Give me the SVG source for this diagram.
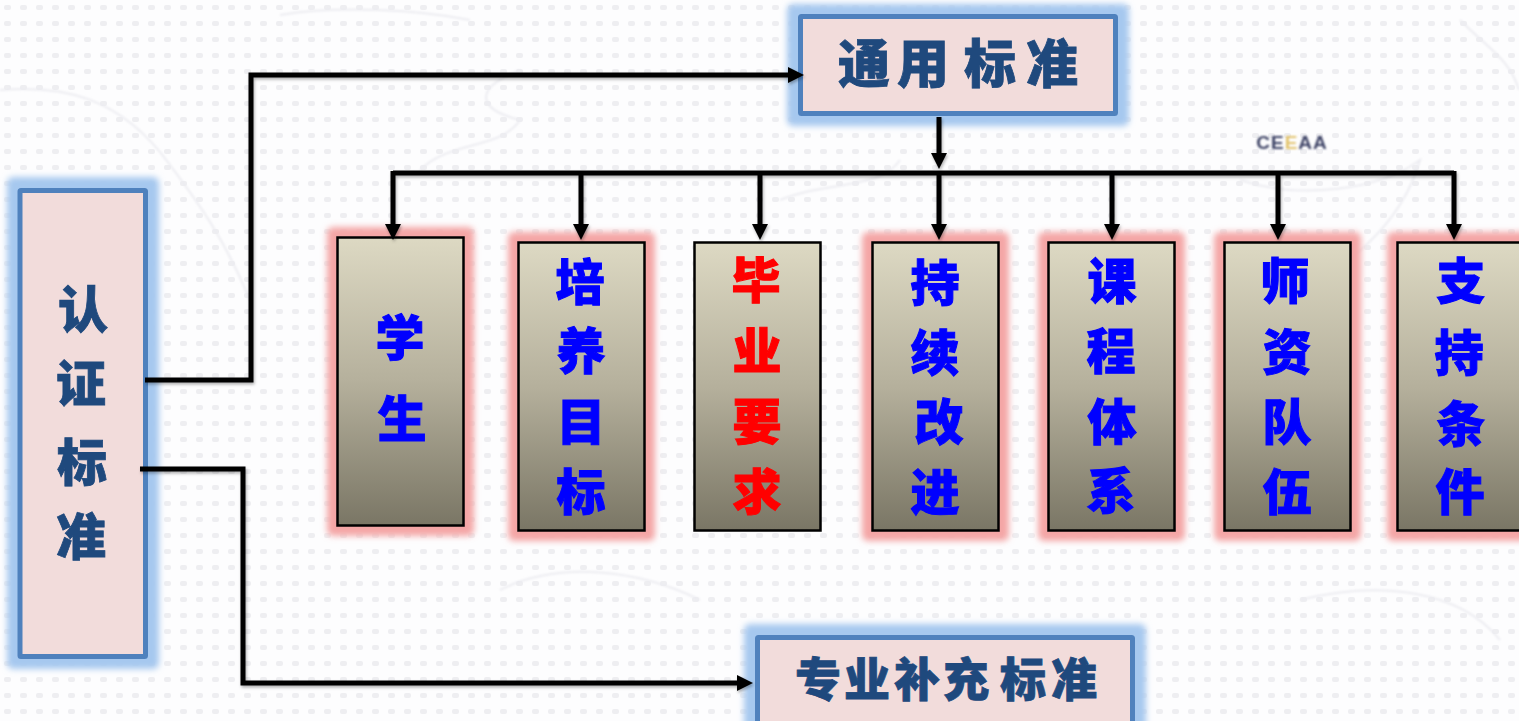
<svg xmlns="http://www.w3.org/2000/svg" width="1519" height="721" viewBox="0 0 1519 721">
<style>
.bbox{fill:#f2dcdb;stroke:#4f81bd;stroke-width:5}
.bglow{fill:#a6c8ef;filter:url(#blur)}
.pglow{fill:#f4a6a6;filter:url(#blur)}
.col{fill:url(#colfill);stroke:#000;stroke-width:2.500}
text{font-family:"Noto Sans CJK SC","Noto Sans CJK TC",sans-serif;font-weight:900;text-anchor:middle;dominant-baseline:central}
.t1{fill:#1f497d;stroke:#1f497d;stroke-width:0.800}
.t2{fill:#0000ff;stroke:#0000ff;stroke-width:1;font-size:49px}
.t3{fill:#ff0000;stroke:#ff0000;stroke-width:1;font-size:49px}
.con{fill:none;stroke:#000;stroke-width:5}
.map{fill:none;stroke:#ececf1;stroke-width:2;filter:url(#soft)}
</style>
<defs>
<filter id="blur" x="-20%" y="-20%" width="140%" height="140%"><feGaussianBlur stdDeviation="3"/></filter>
<filter id="soft" x="-10%" y="-10%" width="120%" height="120%"><feGaussianBlur stdDeviation="1"/></filter>
<filter id="shadow" x="-5%" y="-5%" width="110%" height="110%"><feDropShadow dx="1" dy="2" stdDeviation="1.500" flood-color="#000" flood-opacity="0.3"/></filter>
<filter id="blur1" x="-5%" y="-20%" width="110%" height="140%"><feGaussianBlur stdDeviation="0.800"/></filter>
<linearGradient id="colfill" x1="0" y1="0" x2="0" y2="1"><stop offset="0" stop-color="#ddd9c3"/><stop offset="0.5" stop-color="#b5b09c"/><stop offset="1" stop-color="#7a7665"/></linearGradient>
<pattern id="dots" width="16" height="16" patternUnits="userSpaceOnUse"><rect x="4" y="5" width="7" height="5" rx="2" fill="#eeeef1"/></pattern>
<marker id="arr" markerUnits="userSpaceOnUse" markerWidth="18" markerHeight="18" refX="8" refY="8" orient="auto"><path d="M0 0L16 8L0 16Z" fill="#000"/></marker>
</defs>

<g id="background">
<rect width="1519" height="721" fill="#fdfdfe"/>
<rect width="1519" height="721" fill="url(#dots)"/>
<path class="map" d="M0 90C60 85 120 95 170 165C200 205 225 240 250 300"/>
<path class="map" d="M280 15C340 5 420 10 470 20M420 170C450 140 500 150 520 120C480 110 470 90 520 70"/>
<path class="map" d="M1240 180C1300 200 1380 190 1420 160C1400 230 1340 270 1300 290"/>
<path class="map" d="M500 590C560 560 640 570 700 600M1300 600C1380 580 1460 590 1500 640"/>
<path class="map" d="M1460 20C1490 50 1510 60 1519 90M780 200C830 180 880 190 900 160"/>
</g>

<g id="logo"><text x="1292" y="142" filter="url(#blur1)" style="font-family:'Liberation Sans',sans-serif;font-weight:700;font-size:19px;letter-spacing:1px;fill:#3b4063">CE<tspan fill="#e2c36b">E</tspan>AA</text></g>

<g id="node-certification">
<rect class="bglow" x="7" y="177" width="152" height="492" rx="6"/>
<rect class="bbox" x="20" y="190.500" width="125.500" height="466" rx="1"/>
<text class="t1" font-size="50" x="83 81 82 81" y="306 380 459 533">认证标准</text>
</g>
<g id="node-general">
<rect class="bglow" x="787" y="4" width="342" height="122" rx="6"/>
<rect class="bbox" x="800.500" y="16.500" width="315" height="97" rx="1"/>
<text class="t1" font-size="52" x="864 923 990 1052" y="60">通用标准</text>
</g>
<g id="node-professional">
<rect class="bglow" x="744" y="624" width="402" height="112" rx="6"/>
<rect class="bbox" x="757.500" y="637.500" width="375" height="90" rx="1"/>
<text class="t1" font-size="46" x="818 867 917 966 1023 1074" y="676">专业补充标准</text>
</g>

<g id="node-student">
<rect class="pglow" x="327" y="227" width="147" height="309" rx="6"/>
<rect class="col" x="337.500" y="237.500" width="126" height="288"/>
<text class="t2" x="400 402" y="334 415">学生</text>
</g>
<g id="node-objectives">
<rect class="pglow" x="508" y="232" width="147" height="309" rx="6"/>
<rect class="col" x="518.500" y="242.500" width="126" height="288"/>
<text class="t2" x="580 581 581 581" y="278 347 418 488">培养目标</text>
</g>
<g id="node-outcomes">
<rect class="col" x="694.500" y="242.500" width="126" height="288"/>
<text class="t3" x="756 757 757 757" y="276 347 418 488">毕业要求</text>
</g>
<g id="node-improvement">
<rect class="pglow" x="862" y="232" width="147" height="309" rx="6"/>
<rect class="col" x="872.500" y="242.500" width="126" height="288"/>
<text class="t2" x="935 935 939 935" y="279 349 418 488">持续改进</text>
</g>
<g id="node-curriculum">
<rect class="pglow" x="1038" y="232" width="147" height="309" rx="6"/>
<rect class="col" x="1048.500" y="242.500" width="126" height="288"/>
<text class="t2" x="1112 1111 1112 1111" y="277 347 418 487">课程体系</text>
</g>
<g id="node-faculty">
<rect class="pglow" x="1214" y="232" width="147" height="309" rx="6"/>
<rect class="col" x="1224.500" y="242.500" width="126" height="288"/>
<text class="t2" x="1285 1287 1287 1287" y="277 348 418 488">师资队伍</text>
</g>
<g id="node-support">
<rect class="pglow" x="1387" y="232" width="147" height="309" rx="6"/>
<rect class="col" x="1397.500" y="242.500" width="126" height="288"/>
<text class="t2" x="1461 1459 1461 1460" y="277 349 420 488">支持条件</text>
</g>

<g id="connectors" filter="url(#shadow)">
<path class="con" marker-end="url(#arr)" d="M145 380H251V75H796"/>
<path class="con" marker-end="url(#arr)" d="M140 469H243V683H745"/>
<path class="con" marker-end="url(#arr)" d="M939 117V161"/>
<path class="con" d="M393 173H1454"/>
<path class="con" marker-end="url(#arr)" d="M393 171V232"/>
<path class="con" marker-end="url(#arr)" d="M581 173V232"/>
<path class="con" marker-end="url(#arr)" d="M760 173V232"/>
<path class="con" marker-end="url(#arr)" d="M939 173V232"/>
<path class="con" marker-end="url(#arr)" d="M1112 173V232"/>
<path class="con" marker-end="url(#arr)" d="M1278 173V232"/>
<path class="con" marker-end="url(#arr)" d="M1454 171V232"/>
</g>
</svg>
